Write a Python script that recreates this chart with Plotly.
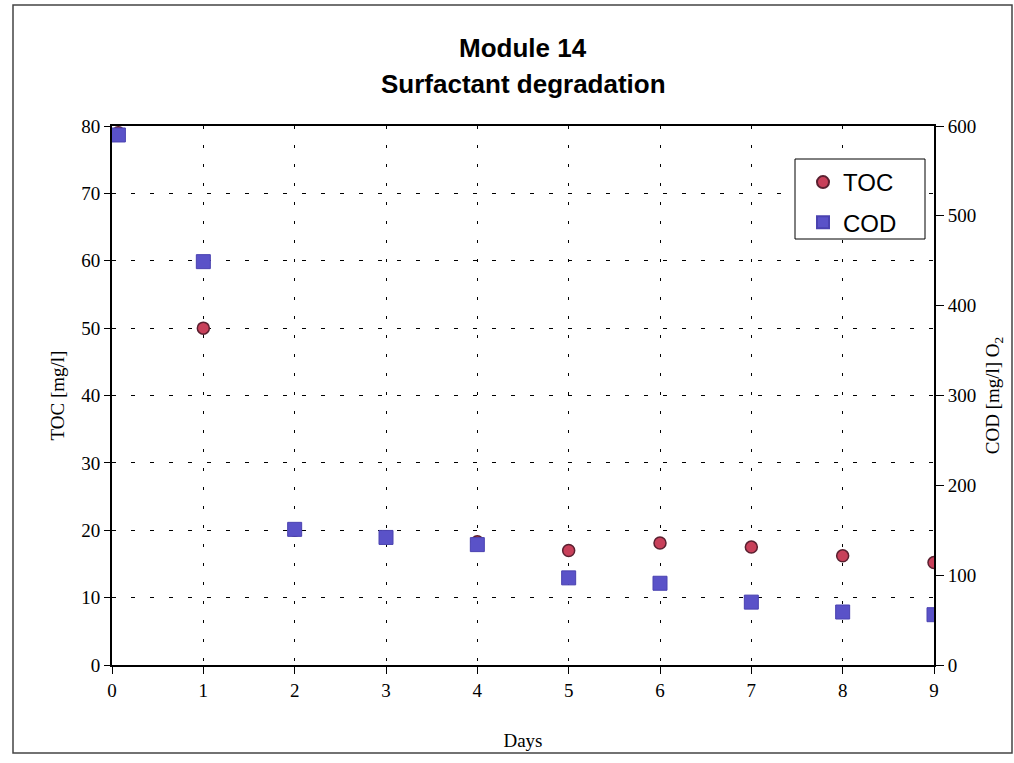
import plotly.graph_objects as go

days_toc = [0.07, 1, 2, 3, 4, 5, 6, 7, 8, 9]
toc = [79, 50, 20, 19, 18.3, 17, 18.1, 17.5, 16.2, 15.2]
days_cod = [0.07, 1, 2, 3, 4, 5, 6, 7, 8, 9]
cod = [590, 449, 151, 142, 134, 97, 91, 70, 59, 56]

# plot area in pixels: x 112..934, y 126..665
PX_L, PX_R, PX_T, PX_B = 112, 934, 126, 665
W_PA, H_PA = PX_R - PX_L, PX_B - PX_T


def px(x):
    return (x - PX_L) / W_PA


def py(y):
    return (PX_B - y) / H_PA


fig = go.Figure()
fig.add_trace(go.Scatter(
    x=days_toc, y=toc, mode="markers", name="TOC", legendgroup="toc",
    marker=dict(symbol="circle", size=12, color="#c8405a",
                line=dict(color="#5a2030", width=1.5)),
    yaxis="y"))
fig.add_trace(go.Scatter(
    x=days_cod, y=cod, mode="markers", name="COD", legendgroup="cod",
    marker=dict(symbol="square", size=14, color="#5a52c8",
                line=dict(color="#4a42b0", width=1)),
    yaxis="y2"))

serif = "Liberation Serif, Times New Roman, serif"
sans = "Liberation Sans, Arial, sans-serif"

fig.update_layout(
    width=1014, height=763,
    margin=dict(l=PX_L, r=1014 - PX_R, t=PX_T, b=763 - PX_B),
    paper_bgcolor="white", plot_bgcolor="white",
    font=dict(family=serif, size=19, color="black"),
    showlegend=True,
    legend=dict(x=px(803), y=py(160), xanchor="left", yanchor="top",
                borderwidth=0, bgcolor="rgba(0,0,0,0)",
                font=dict(family=sans, size=24, color="black"),
                itemsizing="constant", tracegroupgap=6),
    xaxis=dict(range=[0, 9], dtick=1, tick0=0,
               showgrid=True, gridcolor="black", griddash="3px,16px", gridwidth=1,
               showline=True, linecolor="black", linewidth=2, mirror=True,
               ticks="outside", ticklen=7, tickcolor="black",
               zeroline=False,
               title=dict(text="Days", font=dict(family=serif, size=19), standoff=34),
               tickfont=dict(family=serif, size=19)),
    yaxis=dict(range=[0, 80], dtick=10,
               showgrid=True, gridcolor="black", griddash="4px,15px", gridwidth=1,
               showline=True, linecolor="black", linewidth=2,
               ticks="outside", ticklen=6, tickcolor="black",
               zeroline=False,
               title=dict(text="TOC [mg/l]", font=dict(family=serif, size=19), standoff=12),
               tickfont=dict(family=serif, size=19)),
    yaxis2=dict(range=[0, 600], dtick=100, overlaying="y", side="right",
                showgrid=False, showline=True, linecolor="black", linewidth=2,
                ticks="outside", ticklen=8, tickcolor="black",
                zeroline=False,
                title=dict(text="COD [mg/l] O<sub>2</sub>", font=dict(family=serif, size=19), standoff=10),
                tickfont=dict(family=serif, size=19)),
    annotations=[
        dict(text="<b>Module 14</b>", x=0.5, y=py(48), xref="paper", yref="paper",
             yanchor="middle", showarrow=False, font=dict(family=sans, size=26)),
        dict(text="<b>Surfactant degradation</b>", x=0.5, y=py(84), xref="paper", yref="paper",
             yanchor="middle", showarrow=False, font=dict(family=sans, size=26)),
    ],
    shapes=[
        # outer chart frame
        dict(type="rect", xref="paper", yref="paper",
             x0=px(13), x1=px(1012), y0=py(753), y1=py(5),
             line=dict(color="#444444", width=1.5), layer="below"),
        # legend box
        dict(type="rect", xref="paper", yref="paper",
             x0=px(795), x1=px(925), y0=py(239), y1=py(159),
             line=dict(color="black", width=1), fillcolor="white", layer="above"),
    ],
)

fig.write_html("out.html")
